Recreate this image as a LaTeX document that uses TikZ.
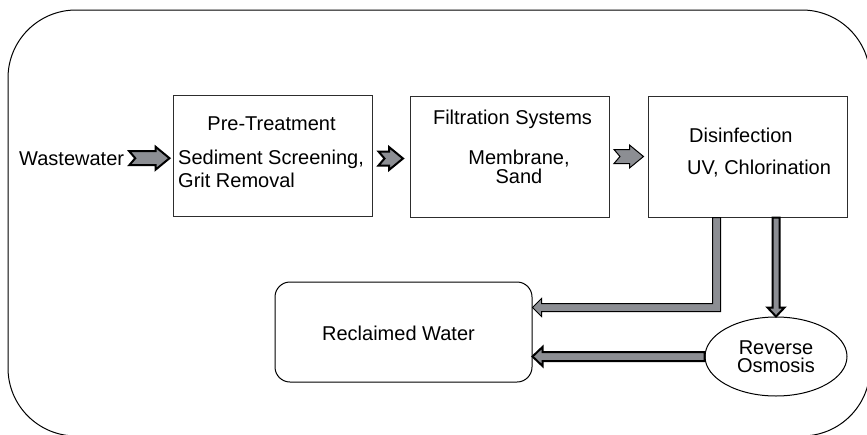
\documentclass[tikz,border=0pt]{standalone}
\usepackage{fontspec}
\setmainfont{Liberation Sans}
\usetikzlibrary{calc,positioning,shapes.geometric}
\definecolor{pipegray}{RGB}{140,142,147}
\definecolor{boxline}{RGB}{45,45,45}

% fat flow arrow: style, tail coordinate, tip coordinate (same height)
\newcommand{\fatarrow}[3]{%
  \filldraw[#1] ($(#2)+(0,-7)$) -- ($(#3)+(-14,-7)$) -- ($(#3)+(-14,-11.5)$) -- (#3)
    -- ($(#3)+(-14,11.5)$) -- ($(#3)+(-14,7)$) -- ($(#2)+(0,7)$) -- ($(#2)+(6,0)$) -- cycle;}

\begin{document}
\begin{tikzpicture}[x=1pt, y=-1pt,
    every node/.style={font=\fontsize{20}{23}\selectfont, inner sep=0pt},
    stage/.style={rectangle, draw=boxline, line width=1pt, minimum width=199pt, minimum height=121pt},
    pipe/.style={draw=black, fill=pipegray, line width=1pt, line join=miter},
    thickpipe/.style={pipe, line width=2pt}]
   \useasboundingbox (0,0) rectangle (867,434);
   \clip (0,0) rectangle (867,434);
   \draw[line width=1pt, rounded corners=68pt] (8,10) rectangle (870,436);

   %stages
   \node[stage] (pre) at (272.5,155.5) {};
   \node[stage] (filt) at (510,156.5) {};
   \node[stage] (dis) at (747.5,156.5) {};
   \node[draw, line width=1pt, rounded corners=15pt, minimum width=257pt, minimum height=100pt] (rw) at (403.5,332) {};
   \node[ellipse, draw, line width=1pt, minimum width=142pt, minimum height=79pt, align=center,
         font=\fontsize{20}{18}\selectfont] (ro) at (776,356.5) {Reverse\\Osmosis};

   %texts
   \node[anchor=base west] (ww) at (19,165) {Wastewater};
   \node[anchor=base] (pret) at (271.5,130) {Pre-Treatment};
   \node[anchor=west, align=left] (pres) at (178,168.4) {Sediment Screening,\\Grit Removal};
   \node[anchor=base] (filtt) at (512.5,124) {Filtration Systems};
   \node[align=center, font=\fontsize{20}{19}\selectfont] (filts) at (519,166.4) {Membrane,\\Sand};
   \node[anchor=base west] (dist) at (689,142) {Disinfection};
   \node[anchor=base west] (diss) at (687,174) {UV, Chlorination};
   \node[anchor=base] (rwt) at (398.5,340) {Reclaimed Water};

   %flow between stages
   \coordinate (a1) at ($(ww.east)+(5,0)$);
   \coordinate (b1) at ($(pre.west |- a1)+(-3,0)$);
   \coordinate (a2) at ($(pre.east)+(6,3)$);
   \coordinate (b2) at ($(filt.west |- a2)+(-7,0)$);
   \coordinate (a3) at ($(filt.east)+(4,0)$);
   \coordinate (b3) at ($(dis.west |- a3)+(-4,0)$);
   \fatarrow{thickpipe}{a1}{b1}
   \fatarrow{thickpipe}{a2}{b2}
   \fatarrow{pipe}{a3}{b3}

   %disinfection to reclaimed water
   \coordinate (d1) at ($(dis.south west)+(69,0)$);
   \coordinate (r1) at ($(rw.north east)+(0,26)$);
   \filldraw[pipe] ($(d1)+(-4,0)$) -- ($(d1 |- r1)+(-4,-4)$) -- ($(r1)+(9,-4)$) -- ($(r1)+(9,-9)$) -- (r1)
     -- ($(r1)+(9,9)$) -- ($(r1)+(9,4)$) -- ($(d1 |- r1)+(4,4)$) -- ($(d1)+(4,0)$) -- cycle;

   %disinfection to reverse osmosis
   \coordinate (d2) at (ro.north |- dis.south);
   \filldraw[thickpipe] ($(d2)+(-3.5,0)$) -- ($(ro.north)+(-3.5,-9)$) -- ($(ro.north)+(-8.5,-9)$) -- (ro.north)
     -- ($(ro.north)+(8.5,-9)$) -- ($(ro.north)+(3.5,-9)$) -- ($(d2)+(3.5,0)$) -- cycle;

   %reverse osmosis to reclaimed water
   \coordinate (r3) at (rw.east |- ro.west);
   \filldraw[thickpipe] ($(ro.west)+(0,-4.5)$) -- ($(r3)+(10,-4.5)$) -- ($(r3)+(10,-9.5)$) -- (r3)
     -- ($(r3)+(10,9.5)$) -- ($(r3)+(10,4.5)$) -- ($(ro.west)+(0,4.5)$) -- cycle;
\end{tikzpicture}
\end{document}
